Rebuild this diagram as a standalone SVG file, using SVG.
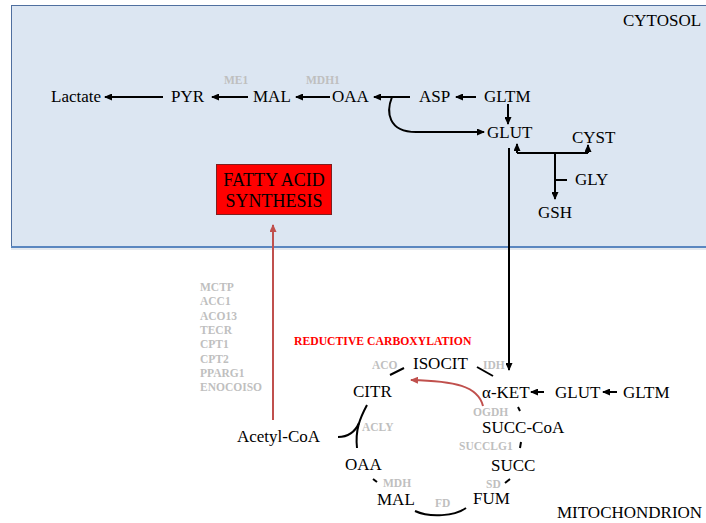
<svg xmlns="http://www.w3.org/2000/svg" width="706" height="523" viewBox="0 0 706 523">
<defs>
<marker id="ah" markerUnits="userSpaceOnUse" markerWidth="8" markerHeight="7" refX="7" refY="3.5" orient="auto"><path d="M0,0 L8,3.5 L0,7 z" fill="#000"/></marker>
<marker id="ahr" markerUnits="userSpaceOnUse" markerWidth="8" markerHeight="7" refX="7" refY="3.5" orient="auto"><path d="M0,0 L8,3.5 L0,7 z" fill="#c0504d"/></marker>
<style>
.t{font-family:"Liberation Serif","Times New Roman",serif;font-size:17px;fill:#000}
.e{font-family:"Liberation Serif","Times New Roman",serif;font-size:11.5px;font-weight:bold;fill:#bfbfbf}
.c{fill:none;stroke:#000;stroke-width:2}
.a{fill:none;stroke:#000;stroke-width:2;marker-end:url(#ah)}
.r{fill:none;stroke:#c0504d;stroke-width:2;marker-end:url(#ahr)}
</style>
</defs>
<rect x="11.5" y="5.5" width="700" height="241" fill="#dce6f2" stroke="#4f6f9f" stroke-width="1"/>
<line x1="11" y1="247" x2="706" y2="247" stroke="#5b87c0" stroke-width="2"/>
<line x1="11" y1="249" x2="706" y2="249" stroke="#c9d2de" stroke-width="1"/>
<text class="t" x="623" y="26">CYTOSOL</text>
<text class="t" x="557" y="518">MITOCHONDRION</text>

<g id="connectors">
<path class="a" d="M163,97 H105"/>
<path class="a" d="M248,97 H212"/>
<path class="a" d="M330,97 H296"/>
<path class="a" d="M410,97 H374"/>
<path class="a" d="M476,97 H456"/>
<path class="a" d="M508,104 V124"/>
<path class="a" d="M392,97 C386,112 388,132 416,132 L484,132"/>
<path class="a" d="M509,148 V370"/>
<path class="c" d="M517,153 H588"/>
<path class="a" d="M517,153 V144"/>
<path class="a" d="M588,153 V145"/>
<path class="a" d="M555,153 V199"/>
<path class="c" d="M555,180 H567"/>
<path class="r" d="M273,420 V225"/>
<path class="r" d="M483,406 C478,386 455,381 411,380"/>
<path class="a" d="M544,392 H531"/>
<path class="a" d="M617,392 H603"/>
<path class="c" d="M390,375 L404,368"/>
<path class="c" d="M477,367 L493,376"/>
<path class="c" d="M518,407 L520,411"/>
<path class="c" d="M521,442 L520,448"/>
<path class="c" d="M505,483 L510,479"/>
<path class="c" d="M415,511 C430,518 455,516 466,508"/>
<path class="c" d="M373,479 L377,482"/>
<path class="c" d="M367,405 C360,418 355,430 357,448"/>
<path class="c" d="M338,437 C348,437 355,432 359,423"/>
</g>

<g id="lactate"><text class="t" x="51" y="102">Lactate</text></g>
<g id="pyr"><text class="t" x="171" y="102">PYR</text></g>
<g id="mal-c"><text class="t" x="253" y="102">MAL</text></g>
<g id="oaa-c"><text class="t" x="332" y="102">OAA</text></g>
<g id="asp"><text class="t" x="419" y="102">ASP</text></g>
<g id="gltm-c"><text class="t" x="484" y="102">GLTM</text></g>
<g id="glut-c"><text class="t" x="487" y="138">GLUT</text></g>
<g id="cyst"><text class="t" x="572" y="143">CYST</text></g>
<g id="gly"><text class="t" x="575" y="185">GLY</text></g>
<g id="gsh"><text class="t" x="538" y="218">GSH</text></g>
<g id="me1"><text class="e" x="224" y="84">ME1</text></g>
<g id="mdh1"><text class="e" x="306" y="84">MDH1</text></g>

<g id="fatty-acid-synthesis">
<rect x="216.5" y="164.5" width="115" height="50" fill="#ff0000" stroke="#7f1f1f" stroke-width="1"/>
<text class="t" x="274" y="186" text-anchor="middle" font-size="18" style="font-size:18px">FATTY ACID</text>
<text class="t" x="274" y="207" text-anchor="middle" style="font-size:18px">SYNTHESIS</text>
</g>

<g id="enzymes-fa">
<text class="e" x="200" y="291">MCTP</text>
<text class="e" x="200" y="305">ACC1</text>
<text class="e" x="200" y="320">ACO13</text>
<text class="e" x="200" y="334">TECR</text>
<text class="e" x="200" y="348">CPT1</text>
<text class="e" x="200" y="363">CPT2</text>
<text class="e" x="200" y="377">PPARG1</text>
<text class="e" x="200" y="391">ENOCOISO</text>
</g>

<g id="reductive-carboxylation"><text x="294" y="345" font-family="Liberation Serif, serif" font-size="11.7" font-weight="bold" fill="#ff0000">REDUCTIVE CARBOXYLATION</text></g>

<g id="isocit"><text class="t" x="413" y="369">ISOCIT</text></g>
<g id="aco"><text class="e" x="372" y="369">ACO</text></g>
<g id="idh"><text class="e" x="483" y="369">IDH</text></g>
<g id="citr"><text class="t" x="353" y="397">CITR</text></g>
<g id="aket"><text class="t" x="482" y="398">α-KET</text></g>
<g id="glut-m"><text class="t" x="555" y="398">GLUT</text></g>
<g id="gltm-m"><text class="t" x="623" y="398">GLTM</text></g>
<g id="ogdh"><text class="e" x="473" y="416">OGDH</text></g>
<g id="succ-coa"><text class="t" x="482" y="433">SUCC-CoA</text></g>
<g id="succlg1"><text class="e" x="459" y="450">SUCCLG1</text></g>
<g id="succ"><text class="t" x="491" y="471">SUCC</text></g>
<g id="sd"><text class="e" x="486" y="488">SD</text></g>
<g id="fum"><text class="t" x="473" y="504">FUM</text></g>
<g id="fd"><text class="e" x="435" y="507">FD</text></g>
<g id="mal-m"><text class="t" x="377" y="505">MAL</text></g>
<g id="mdh"><text class="e" x="383" y="487">MDH</text></g>
<g id="oaa-m"><text class="t" x="345" y="470">OAA</text></g>
<g id="acly"><text class="e" x="362" y="431">ACLY</text></g>
<g id="acetyl-coa"><text class="t" x="237" y="442">Acetyl-CoA</text></g>
</svg>
